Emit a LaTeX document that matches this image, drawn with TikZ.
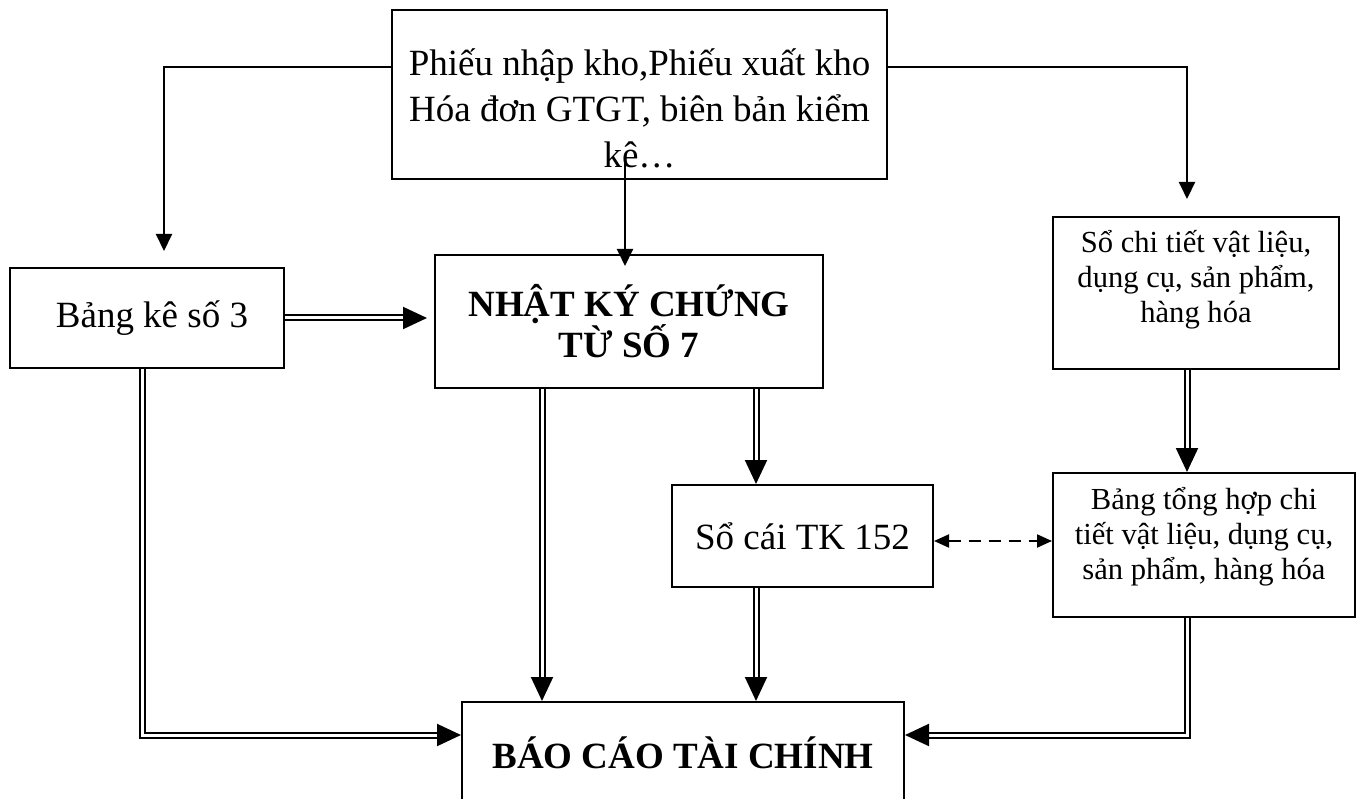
\documentclass[tikz,border=0pt]{standalone}
\usepackage{fontspec}
\setmainfont{Liberation Serif}
\usetikzlibrary{arrows.meta,calc}
\begin{document}
\begin{tikzpicture}[x = 1pt, y = -1pt, line width = 2pt,
    box/.style = {draw, rectangle, align = center, inner sep = 0pt},
    big/.style = {font = \fontsize{37}{46}\selectfont},
    small/.style = {font = \fontsize{30.6}{35}\selectfont},
    heavy/.style = {font = \fontsize{37}{40}\selectfont\bfseries},
    flow/.style = {-{Triangle[length = 17pt, width = 16pt]}},
    dflow/.style = {double, double distance = 3pt,
                    -{Triangle[length = 24pt, width = 22pt]}}]
  \useasboundingbox (0,0) rectangle (1362,799);
  \clip (0,0) rectangle (1362,799);
  % boxes
  \node [box, big, minimum width = 495pt, minimum height = 169pt]
    (src) at (639.5,94.5)
    {\rule{0pt}{54pt}Phiếu nhập kho,Phiếu xuất kho\\Hóa đơn GTGT, biên bản kiểm\\kê…};
  \node [box, big, minimum width = 274pt, minimum height = 100pt]
    (bk) at (147,318) {\hspace*{10pt}Bảng kê số 3};
  \node [box, heavy, minimum width = 388pt, minimum height = 133pt]
    (nkct) at (629,321.5) {NHẬT KÝ CHỨNG\\TỪ SỐ 7};
  \node [box, small, minimum width = 286pt, minimum height = 152pt]
    (sct) at (1196,293)
    {Sổ chi tiết vật liệu,\\dụng cụ, sản phẩm,\\hàng hóa\rule[-33pt]{0pt}{33pt}};
  \node [box, big, minimum width = 261pt, minimum height = 102pt]
    (sc) at (802.5,536) {Sổ cái TK 152};
  \node [box, small, minimum width = 302pt, minimum height = 144pt]
    (bth) at (1204,545)
    {Bảng tổng hợp chi\\tiết vật liệu, dụng cụ,\\sản phẩm, hàng hóa\rule[-24pt]{0pt}{24pt}};
  \node [box, heavy, anchor = base, minimum width = 442pt,
         text height = 27pt, text depth = 40pt, inner ysep = 39pt]
    (bctc) at (683,768) {BÁO CÁO TÀI CHÍNH};
  \coordinate (c0) at (142,0);
  \coordinate (c1) at (542,0);
  \coordinate (c2) at (756,0);
  \coordinate (c3) at (1187,0);
  \coordinate (r) at (0,735);
  % single arrows
  \draw [flow, shorten >= 16pt] ($(src.west)+(0,-27.5)$) -| ($(bk.north)+(17,0)$);
  \draw [flow, shorten >= 17pt] ($(src.east)+(0,-27.5)$) -| ($(sct.north)+(-9,0)$);
  \draw [flow] ($(src.south)+(-14.5,-17)$) -- ($(nkct.north)+(-4,12)$);
  % double arrows
  \draw [dflow, shorten >= 7pt] (bk.east) -- (bk.east -| nkct.west);
  \draw [dflow] (nkct.south -| c1) -- (bctc.north -| c1);
  \draw [dflow] (nkct.south -| c2) -- (sc.north -| c2);
  \draw [dflow] (sc.south -| c2) -- (bctc.north -| c2);
  \draw [dflow] (sct.south -| c3) -- (bth.north -| c3);
  \draw [dflow] (bk.south -| c0) |- (r -| bctc.west);
  \draw [dflow] (bth.south -| c3) |- (r -| bctc.east);
  % dashed link
  \draw [dash pattern = on 12pt off 8pt,
         {Triangle[length = 15pt, width = 13pt]}-{Triangle[length = 15pt, width = 13pt]}]
    ($(sc.east)+(0,5)$) -- ($(sc.east -| bth.west)+(0,5)$);
\end{tikzpicture}
\end{document}
